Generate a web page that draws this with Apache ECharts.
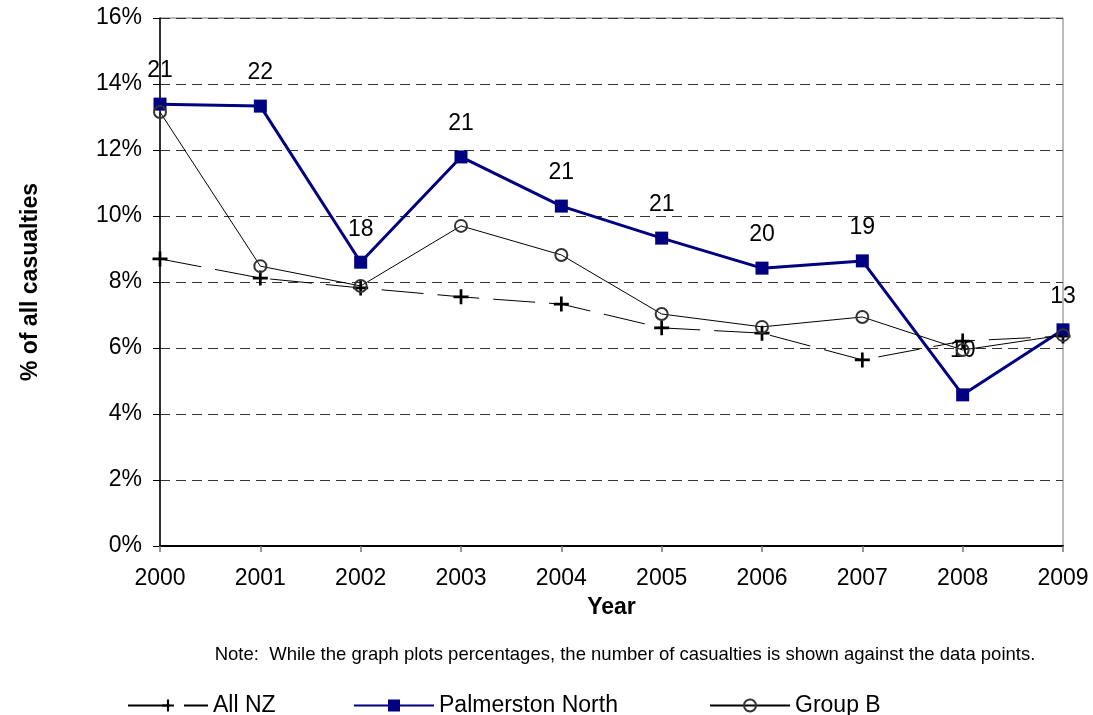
<!DOCTYPE html>
<html>
<head>
<meta charset="utf-8">
<script src="https://cdn.jsdelivr.net/npm/echarts@6/dist/echarts.min.js"></script>
<style>
html,body{margin:0;padding:0;background:#fff;}
#chart{width:1093px;height:715px;}
</style>
</head>
<body>
<div id="chart"></div>
<script>
const years = ['2000','2001','2002','2003','2004','2005','2006','2007','2008','2009'];
const allNZ = [8.70, 8.12, 7.82, 7.55, 7.33, 6.61, 6.45, 5.64, 6.21, 6.36];
const palmerston = [13.39, 13.33, 8.60, 11.79, 10.30, 9.33, 8.42, 8.64, 4.58, 6.55];
const groupB = [13.15, 8.48, 7.88, 9.70, 8.82, 7.03, 6.64, 6.94, 5.94, 6.39];
const casualtyCounts = [21, 22, 18, 21, 21, 21, 20, 19, 10, 13];
const yTicks = [0, 2, 4, 6, 8, 10, 12, 14, 16];

const FONT = 'Liberation Sans, Arial, sans-serif';
const plusPath = 'path://M4.1,0 H5.9 V4.1 H10 V5.9 H5.9 V10 H4.1 V5.9 H0 V4.1 H4.1 Z';

const palmData = palmerston.map((v, i) => ({
  value: v,
  label: { distance: i === 8 ? 26 : 15 }
}));

const legendText = { fontFamily: FONT, fontSize: 23, color: '#000' };

const chart = echarts.init(document.getElementById('chart'));
chart.setOption({
  animation: false,
  backgroundColor: '#fff',
  textStyle: { fontFamily: FONT },
  title: {
    text: 'Note:  While the graph plots percentages, the number of casualties is shown against the data points.',
    left: 620, top: 640, textAlign: 'center',
    textStyle: { fontFamily: FONT, fontSize: 18.5, fontWeight: 'normal', color: '#000' }
  },
  legend: [
    { data: ['All NZ'], left: 127, top: 694, padding: 0, itemWidth: 80, itemHeight: 15, textStyle: legendText },
    { data: ['Palmerston North'], left: 353, top: 694, padding: 0, itemWidth: 80, itemHeight: 15, textStyle: legendText },
    { data: ['Group B'], left: 709, top: 694, padding: 0, itemWidth: 80, itemHeight: 15, textStyle: legendText }
  ],
  grid: { left: 160, right: 30, top: 18, bottom: 169, show: true, borderColor: '#777', borderWidth: 1, backgroundColor: 'transparent' },
  xAxis: {
    type: 'category',
    data: years,
    boundaryGap: false,
    name: 'Year',
    nameLocation: 'middle',
    nameGap: 50,
    nameTextStyle: { fontFamily: FONT, fontSize: 23, fontWeight: 'bold', color: '#000' },
    axisLine: { lineStyle: { color: '#000', width: 2 } },
    axisTick: { show: true, alignWithLabel: true, length: 6, lineStyle: { color: '#777', width: 1.5 } },
    axisLabel: { margin: 21, fontFamily: FONT, fontSize: 23, color: '#000' },
    splitLine: { show: false }
  },
  yAxis: {
    type: 'value',
    min: 0, max: 16, interval: 2,
    name: '% of all casualties',
    nameLocation: 'middle',
    nameGap: 118,
    nameTextStyle: { fontFamily: FONT, fontSize: 23, fontWeight: 'bold', color: '#000' },
    axisLine: { show: true, lineStyle: { color: '#000', width: 1.5 } },
    axisTick: { show: true, length: 7, lineStyle: { color: '#000', width: 1 } },
    axisLabel: {
      margin: 18, fontFamily: FONT, fontSize: 23, color: '#000',
      customValues: yTicks,
      formatter: v => v + '%'
    },
    splitLine: { show: true, lineStyle: { color: '#333', width: 1, type: [10, 6] } }
  },
  series: [
    {
      name: 'All NZ', type: 'line', data: allNZ,
      symbol: plusPath, symbolSize: 15,
      lineStyle: { color: '#000', width: 1, type: [42, 14] },
      itemStyle: { color: '#000', borderWidth: 0 },
      z: 2
    },
    {
      name: 'Palmerston North', type: 'line', data: palmData,
      symbol: 'rect', symbolSize: 13,
      lineStyle: { color: '#000080', width: 3 },
      itemStyle: { color: '#000080', borderWidth: 0 },
      label: {
        show: true, position: 'top',
        fontFamily: FONT, fontSize: 23, color: '#000',
        formatter: p => String(casualtyCounts[p.dataIndex])
      },
      z: 3
    },
    {
      name: 'Group B', type: 'line', data: groupB,
      symbol: 'circle', symbolSize: 12,
      lineStyle: { color: '#000', width: 1 },
      itemStyle: { color: 'rgba(255,255,255,0)', borderColor: '#333', borderWidth: 2 },
      z: 4
    }
  ]
});
</script>
</body>
</html>
